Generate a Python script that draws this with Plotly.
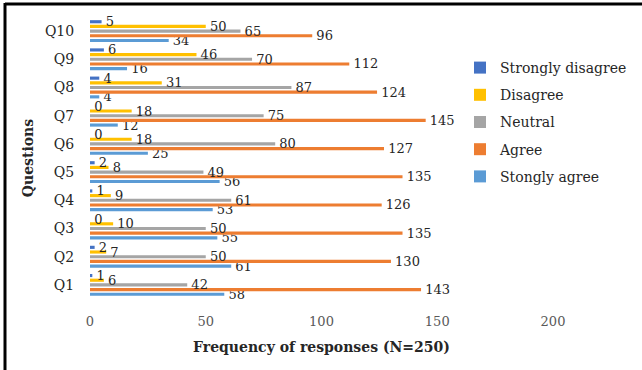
import plotly.graph_objects as go

questions = ["Q1", "Q2", "Q3", "Q4", "Q5", "Q6", "Q7", "Q8", "Q9", "Q10"]
strongly_disagree = [1, 2, 0, 1, 2, 0, 0, 4, 6, 5]
disagree = [6, 7, 10, 9, 8, 18, 18, 31, 46, 50]
neutral = [42, 50, 50, 61, 49, 80, 75, 87, 70, 65]
agree = [143, 130, 135, 126, 135, 127, 145, 124, 112, 96]
strongly_agree = [58, 61, 55, 53, 56, 25, 12, 4, 16, 34]
x_ticks = [0, 50, 100, 150, 200]

FONT = "DejaVu Serif"
series = [
    ("Stongly agree", strongly_agree, "#5B9BD5"),
    ("Agree", agree, "#ED7D31"),
    ("Neutral", neutral, "#A5A5A5"),
    ("Disagree", disagree, "#FFC000"),
    ("Strongly disagree", strongly_disagree, "#4472C4"),
]

fig = go.Figure()
for i, (name, vals, color) in enumerate(series):
    fig.add_trace(go.Bar(
        y=questions, x=vals, name=name, orientation="h",
        marker=dict(color=color, line=dict(width=0)),
        text=["\u00a0" + str(v) for v in vals], textposition="outside",
        constraintext="none", cliponaxis=False,
        outsidetextfont=dict(family=FONT, size=13, color="#262626"),
        legendgroup=f"g{i}", legendrank=len(series) - i,
    ))

L, R, T, B = 90, 89, 17, 71
W, H = 642, 370
pw, ph = W - L - R, H - T - B

def px_x(p):
    return (p - L) / pw

def px_y(p):
    return (H - B - p) / ph

fig.update_layout(
    width=W, height=H,
    margin=dict(l=L, r=R, t=T, b=B, autoexpand=False),
    paper_bgcolor="white", plot_bgcolor="white",
    barmode="group", bargap=0.17, bargroupgap=0.33,
    font=dict(family=FONT, size=14, color="#262626"),
    showlegend=True,
    legend=dict(
        x=px_x(460), y=px_y(52), xanchor="left", yanchor="top",
        traceorder="grouped", tracegroupgap=6,
        font=dict(family=FONT, size=14, color="#262626"),
        bgcolor="rgba(0,0,0,0)", itemwidth=30,
    ),
    xaxis=dict(
        range=[0, 200], tickvals=x_ticks, showgrid=False, zeroline=False,
        showline=False, ticks="outside", ticklen=10, tickcolor="rgba(0,0,0,0)",
        tickfont=dict(family=FONT, size=13, color="#595959"), automargin=False,
        title=dict(text="<b>Frequency of responses (N=250)</b>",
                   font=dict(family=FONT, size=14, color="#262626"), standoff=14),
    ),
    yaxis=dict(
        showgrid=False, zeroline=False, showline=False, automargin=False,
        ticks="outside", ticklen=12, tickcolor="rgba(0,0,0,0)",
        tickfont=dict(family=FONT, size=14, color="#262626"),
        title=dict(text="<b>Questions</b>",
                   font=dict(family=FONT, size=14, color="#262626"), standoff=8),
    ),
    shapes=[
        dict(type="line", xref="paper", yref="paper",
             x0=px_x(5), x1=px_x(700), y0=px_y(4), y1=px_y(4),
             line=dict(color="black", width=3)),
        dict(type="line", xref="paper", yref="paper",
             x0=px_x(5), x1=px_x(5), y0=px_y(3), y1=px_y(400),
             line=dict(color="black", width=3)),
    ],
)

fig.write_html("out.html", config={"displayModeBar": False},
               post_script="document.body.style.margin='0';document.body.style.padding='0';")
